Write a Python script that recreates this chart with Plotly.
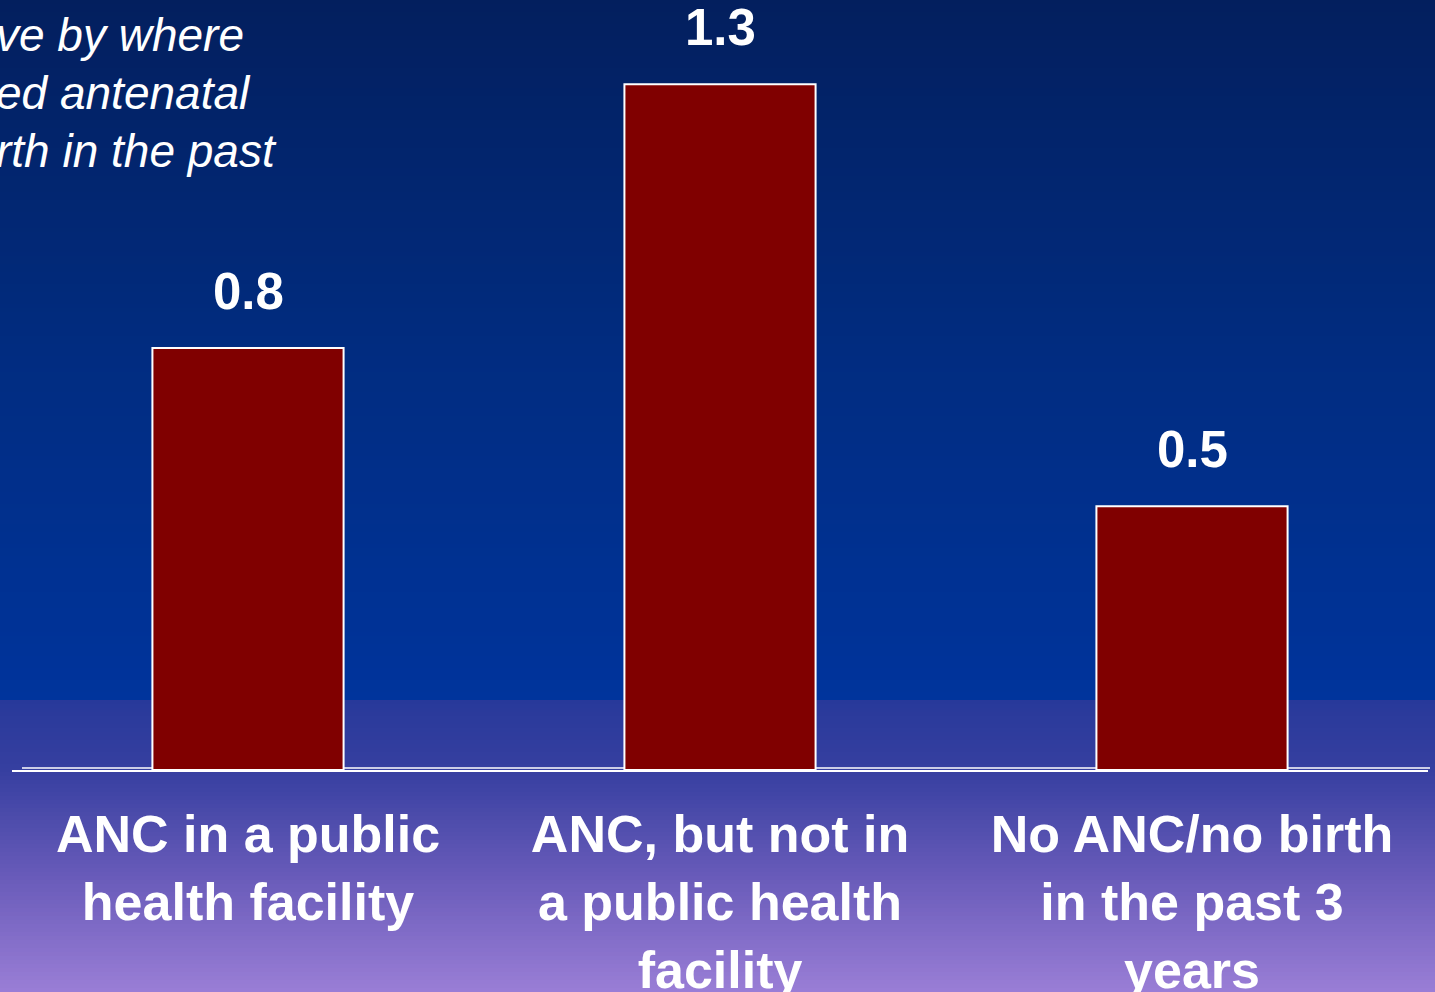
import plotly.graph_objects as go

categories = ["ANC in a public<br>health facility",
              "ANC, but not in<br>a public health<br>facility",
              "No ANC/no birth<br>in the past 3<br>years"]
values = [0.8, 1.3, 0.5]
value_labels = ["0.8", "1.3", "0.5"]
title_lines = ["ve by where", "ed antenatal", "rth in the past"]

W, H = 1435, 992
ML, MR, MT, MB = 12, 7, 0, 222
PW = W - ML - MR
PH = H - MT - MB

def px_to_paper_y(p):
    return (H - MB - p) / PH

def lerp(c1, c2, t):
    return tuple(round(a + (b - a) * t) for a, b in zip(c1, c2))

# background gradient stops (pixel y, rgb)
upper = [(0, (3, 31, 94)), (350, (1, 44, 128)), (700, (0, 52, 156))]
lower = [(700, (40, 57, 154)), (770, (54, 63, 160)), (880, (106, 92, 186)), (992, (154, 126, 214))]

def color_at(p, stops):
    for (y0, c0), (y1, c1) in zip(stops[:-1], stops[1:]):
        if y0 <= p <= y1:
            return lerp(c0, c1, (p - y0) / (y1 - y0))
    return stops[-1][1]

shapes = []
step = 4
for p in range(0, H, step):
    stops = upper if p < 700 else lower
    c = color_at(p + step / 2, stops)
    shapes.append(dict(type="rect", xref="paper", yref="paper",
                       x0=-0.05, x1=1.05,
                       y0=px_to_paper_y(min(p + step + 1, H + 4)), y1=px_to_paper_y(p),
                       fillcolor="rgb(%d,%d,%d)" % c, line=dict(width=0), layer="below"))

# double baseline
shapes.append(dict(type="line", xref="paper", yref="paper",
                   x0=(22 - ML) / PW, x1=(1430 - ML) / PW,
                   y0=px_to_paper_y(768), y1=px_to_paper_y(768),
                   line=dict(color="white", width=1.5), layer="below"))

fig = go.Figure()
fig.add_trace(go.Bar(
    x=categories, y=values,
    marker=dict(color="#800000", line=dict(color="white", width=2)),
    width=0.405, showlegend=False, hoverinfo="skip",
))

annotations = []
for cat, v, lab in zip(categories, values, value_labels):
    annotations.append(dict(x=cat, y=v, xref="x", yref="y", text=lab, showarrow=False,
                            yanchor="bottom", yshift=26,
                            font=dict(family="Liberation Sans, Arial", size=51, color="white", weight="bold")))

for i, line in enumerate(title_lines):
    annotations.append(dict(x=-ML / PW - 0.004, y=px_to_paper_y(35 + 58 * i), xref="paper", yref="paper",
                            text="<i>%s</i>" % line, showarrow=False, xanchor="left", yanchor="middle",
                            font=dict(family="Liberation Sans, Arial", size=46, color="white")))

fig.update_layout(
    width=W, height=H,
    autosize=False,
    margin=dict(l=ML, r=MR, t=MT, b=MB, pad=0, autoexpand=False),
    paper_bgcolor="rgb(154,126,214)",
    plot_bgcolor="rgba(0,0,0,0)",
    shapes=shapes,
    annotations=annotations,
    bargap=0.595,
    xaxis=dict(showgrid=False, zeroline=False, showline=True, linecolor="white", linewidth=2,
               automargin=False,
               ticks="", tickfont=dict(family="Liberation Sans, Arial", size=52, color="white", weight="bold"),
               ticklabelstandoff=18, range=[-0.5, 2.5], fixedrange=True),
    yaxis=dict(visible=False, automargin=False, range=[0, 770 / 527.5], fixedrange=True),
)

fig.write_html("out.html", config={"displayModeBar": False},
               post_script="document.body.style.margin='0';document.body.style.overflow='hidden';")
